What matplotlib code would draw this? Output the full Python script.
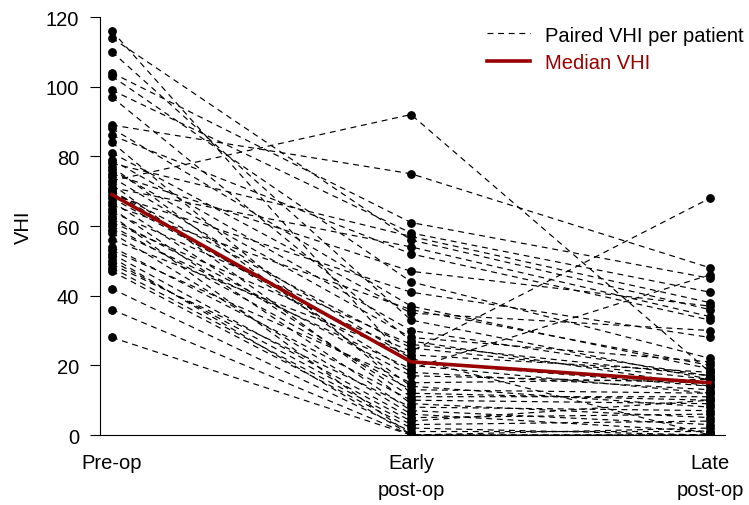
import matplotlib.pyplot as plt
import numpy as np

plt.rcParams['font.family'] = ['Liberation Sans', 'DejaVu Sans']

timepoints = ['Pre-op', 'Early\npost-op', 'Late\npost-op']

# VHI score per patient at each visit (same patient order in all three lists)
vhi_pre = [116, 114, 110, 104, 103, 99, 97, 89, 88, 86, 84, 81, 79, 78, 77, 76,
           75, 74, 73, 72, 71, 70, 70, 69, 68, 67, 66, 65, 64, 63, 62, 61, 60,
           59, 58, 56, 54, 53, 52, 51, 50, 49, 48, 47, 42, 36, 28]
vhi_early = [20, 56, 33, 61, 44, 58, 27, 75, 37, 52, 12, 35, 30, 57, 14, 28,
             47, 22, 92, 9, 54, 25, 18, 41, 21, 11, 36, 7, 26, 0, 17, 24, 13,
             19, 6, 23, 10, 15, 5, 0, 4, 8, 3, 2, 1, 0, 0]
vhi_late = [12, 36, 16, 45, 22, 41, 14, 48, 19, 33, 10, 30, 17, 38, 8, 21,
            37, 0, 18, 5, 34, 16, 13, 28, 14, 11, 20, 3, 17, 0, 15, 68, 12,
            46, 1, 18, 9, 16, 6, 2, 10, 7, 4, 0, 1, 0, 0]

scores = np.array([vhi_pre, vhi_early, vhi_late])
x = np.arange(len(timepoints))
medians = np.median(scores, axis=1)

fig = plt.figure(figsize=(7.49, 5.06), dpi=100)
ax = fig.add_axes([0.1335, 0.1383, 0.8345, 0.8261])

for i in range(scores.shape[1]):
    ax.plot(x, scores[:, i], color='black', linestyle=(0, (5, 4)), linewidth=0.85,
            label='Paired VHI per patient' if i == 0 else None, zorder=2)
    ax.plot(x, scores[:, i], 'o', color='black', markersize=5.3, zorder=3)

ax.plot(x, medians, color='#990000', linewidth=2.6, label='Median VHI', zorder=4)

ax.set_xlim(-0.04, 2.05)
ax.set_ylim(0, 120)
ax.set_yticks(np.arange(0, 121, 20))
ax.set_xticks(x)
ax.set_xticklabels(timepoints, fontsize=14.5, linespacing=1.55)
ax.tick_params(axis='x', length=0, pad=13)
ax.tick_params(axis='y', direction='out', length=7, width=0.8, labelsize=14.5, pad=8)
ax.set_ylabel('VHI', fontsize=14.5, labelpad=9)

for side in ['top', 'right']:
    ax.spines[side].set_visible(False)
for side in ['left', 'bottom']:
    ax.spines[side].set_linewidth(0.8)

leg = ax.legend(loc='upper right', bbox_to_anchor=(1.058, 1.023), frameon=False,
                fontsize=14.5, handlelength=2.15, handletextpad=0.7, labelspacing=0.4)
leg.get_texts()[1].set_color('#990000')

fig.savefig('out.png', dpi=100)
